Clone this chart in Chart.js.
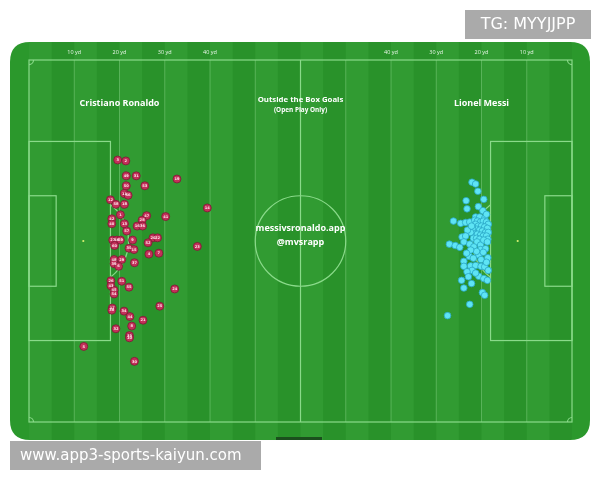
<!DOCTYPE html>
<html><head><meta charset="utf-8">
<script src="https://cdn.jsdelivr.net/npm/chart.js@4"></script>
<style>html,body{margin:0;padding:0;background:#fff}#wrap{width:600px;height:480px;position:relative}</style>
</head><body><div id="wrap"><canvas id="c" width="600" height="480"></canvas></div>
<script>
// Pitch coordinates in yards (120 x 80), y measured from the top touchline
const ronaldoX=[19.6,21.4,21.5,23.7,32.7,21.5,25.6,21.1,21.9,18.0,19.2,21.1,39.4,20.2,26.0,30.2,25.0,18.3,18.3,21.1,23.9,25.1,21.6,27.4,28.4,18.5,19.4,20.2,18.9,22.9,26.3,22.1,23.2,37.2,26.5,28.7,18.8,18.8,20.5,19.8,23.3,18.1,20.5,18.1,22.1,18.8,18.8,32.2,18.4,18.3,28.9,21.0,22.3,25.2,22.7,19.2,22.2,22.2,12.1,23.3];
const ronaldoY=[22.1,22.3,25.6,25.6,26.3,27.8,27.8,29.5,29.9,30.9,31.9,31.9,32.7,34.2,34.4,34.6,35.4,35.1,36.2,36.2,36.7,36.7,37.8,39.3,39.3,39.8,39.8,39.8,41.0,39.8,40.4,41.6,41.9,41.2,42.9,42.7,44.1,45.0,44.1,45.6,44.8,48.8,48.9,49.9,50.2,50.9,51.7,50.6,54.8,55.3,54.4,55.5,56.7,57.5,58.8,59.4,60.9,61.4,63.3,66.6];
const ronaldoLabels=['3','2','49','31','19','50','53','11','56','12','58','18','14','1','47','41','28','42','40','13','16','36','57','20','22','27','46','59','60','9','52','35','15','23','4','7','48','39','29','6','37','26','51','43','55','45','54','24','17','38','25','34','44','21','8','32','33','10','5','30'];
const messiX=[97.9,98.7,99.2,96.6,100.5,96.8,99.3,100.3,93.8,95.4,96.5,97.4,98.7,99.6,100.7,101.1,98.5,99.1,99.8,100.4,101.1,101.5,98.7,99.3,100.0,100.7,101.3,98.9,99.6,100.2,100.9,101.5,98.5,99.1,99.8,100.4,101.1,98.0,97.6,98.2,98.9,99.6,101.4,96.9,97.8,95.7,96.5,92.9,94.2,95.2,96.1,97.4,99.0,99.8,100.5,101.3,98.3,99.8,100.9,97.3,99.4,99.9,101.4,96.1,96.1,97.6,98.7,97.9,96.8,99.9,100.7,99.4,100.5,101.3,95.6,97.1,97.8,96.1,100.2,100.7,97.4,92.5,98.9,100.4,98.2,101.1,101.5,98.7,97.6,96.7];
const messiY=[27.0,27.4,29.0,31.1,30.8,32.9,32.4,33.3,35.6,36.1,35.9,35.8,34.7,34.7,35.0,34.1,35.4,35.6,35.8,35.6,35.8,36.3,36.3,36.7,36.7,36.9,37.2,37.4,37.6,37.8,38.1,38.1,38.3,38.5,38.7,38.9,38.9,37.2,38.1,39.4,39.4,39.6,39.6,37.6,36.7,39.1,38.9,40.7,41.0,41.4,40.2,40.7,40.2,40.9,39.8,40.2,41.3,41.9,41.7,43.4,43.1,44.1,43.7,44.5,45.6,45.5,45.4,46.5,46.8,45.6,45.7,47.8,48.3,48.7,48.7,47.9,49.4,50.4,51.4,52.0,54.0,56.5,42.3,42.5,43.8,44.7,46.5,47.1,42.0,42.7];
const ydTicks=[10,20,30,40,80,90,100,110];
const ydLabels=['10 yd','20 yd','30 yd','40 yd','40 yd','30 yd','20 yd','10 yd'];

const ronaldoData=ronaldoX.map((x,i)=>({x:x,y:ronaldoY[i]}));
const messiData=messiX.map((x,i)=>({x:x,y:messiY[i]}));

function rr(ctx,x,y,w,h,r){ctx.beginPath();ctx.moveTo(x+r,y);ctx.lineTo(x+w-r,y);ctx.quadraticCurveTo(x+w,y,x+w,y+r);ctx.lineTo(x+w,y+h-r);ctx.quadraticCurveTo(x+w,y+h,x+w-r,y+h);ctx.lineTo(x+r,y+h);ctx.quadraticCurveTo(x,y+h,x,y+h-r);ctx.lineTo(x,y+r);ctx.quadraticCurveTo(x,y,x+r,y);ctx.closePath();}

const pitchPlugin={
  id:'pitch',
  beforeDatasetsDraw(chart){
    const ctx=chart.ctx, sx=chart.scales.x, sy=chart.scales.y;
    const X=v=>sx.getPixelForValue(v), Y=v=>sy.getPixelForValue(v);
    const u=X(1)-X(0);
    ctx.save();
    ctx.fillStyle='#fff';ctx.fillRect(0,0,600,480);
    rr(ctx,10,42,580,398,20);ctx.fillStyle='#2b982c';ctx.fill();
    ctx.save();rr(ctx,10,42,580,398,20);ctx.clip();
    for(let i=0;i<24;i++){
      ctx.fillStyle=(i%2===0)?'rgba(255,255,255,0.03)':'rgba(0,0,0,0.035)';
      ctx.fillRect(X(i*5),42,X(5)-X(0),398);
    }
    ctx.restore();
    ctx.fillStyle='#1b4f1d';ctx.fillRect(276,437,46,3);
    ctx.strokeStyle='rgba(170,235,170,0.35)';ctx.lineWidth=1;
    for(let v=10;v<120;v+=10){ if(v===60)continue; ctx.beginPath();ctx.moveTo(X(v),Y(0));ctx.lineTo(X(v),Y(80));ctx.stroke();}
    ctx.strokeStyle='#8ada8a';ctx.lineWidth=1.2;
    ctx.strokeRect(X(0),Y(0),X(120)-X(0),Y(80)-Y(0));
    ctx.beginPath();ctx.moveTo(X(60),Y(0));ctx.lineTo(X(60),Y(80));ctx.stroke();
    ctx.beginPath();ctx.arc(X(60),Y(40),10*u,0,Math.PI*2);ctx.stroke();
    ctx.strokeRect(X(0),Y(18),X(18)-X(0),Y(62)-Y(18));
    ctx.strokeRect(X(102),Y(18),X(120)-X(102),Y(62)-Y(18));
    ctx.strokeRect(X(0),Y(30),X(6)-X(0),Y(50)-Y(30));
    ctx.strokeRect(X(114),Y(30),X(120)-X(114),Y(50)-Y(30));
    const a=Math.acos(0.6);
    ctx.beginPath();ctx.arc(X(12),Y(40),10*u,-a,a);ctx.stroke();
    ctx.beginPath();ctx.arc(X(108),Y(40),10*u,Math.PI-a,Math.PI+a);ctx.stroke();
    ctx.fillStyle='#d8f070';
    [[12,40],[108,40],[60,40]].forEach(p=>{ctx.beginPath();ctx.arc(X(p[0]),Y(p[1]),1.1,0,Math.PI*2);ctx.fill();});
    ctx.strokeStyle='#8ada8a';
    ctx.beginPath();ctx.arc(X(0),Y(0),u,0,Math.PI/2);ctx.stroke();
    ctx.beginPath();ctx.arc(X(120),Y(0),u,Math.PI/2,Math.PI);ctx.stroke();
    ctx.beginPath();ctx.arc(X(0),Y(80),u,-Math.PI/2,0);ctx.stroke();
    ctx.beginPath();ctx.arc(X(120),Y(80),u,Math.PI,Math.PI*1.5);ctx.stroke();
    ctx.fillStyle='#eaf7ea';ctx.font='5.5px "Open Sans", sans-serif';ctx.textAlign='center';ctx.textBaseline='middle';
    ydTicks.forEach((v,i)=>ctx.fillText(ydLabels[i],X(v),52));
    ctx.fillStyle='#ffffff';
    ctx.font='bold 9px "Open Sans", sans-serif';
    ctx.fillText('Cristiano Ronaldo',X(20),Y(9.5));
    ctx.fillText('Lionel Messi',X(100),Y(9.5));
    ctx.font='bold 7.8px "Open Sans", sans-serif';
    ctx.fillText('Outside the Box Goals',X(60),Y(8.8));
    ctx.font='bold 6.4px "Open Sans", sans-serif';
    ctx.fillText('(Open Play Only)',X(60),Y(11));
    ctx.font='bold 9px "Open Sans", sans-serif';
    ctx.fillText('messivsronaldo.app',X(60),Y(37.3));
    ctx.fillText('@mvsrapp',X(60),Y(40.4));
    ctx.restore();
  },
  afterDatasetsDraw(chart){
    const ctx=chart.ctx;
    const meta=chart.getDatasetMeta(0);
    ctx.save();
    ctx.fillStyle='#ffe3ea';ctx.font='bold 3.6px "DejaVu Sans", sans-serif';ctx.textAlign='center';ctx.textBaseline='middle';
    meta.data.forEach((el,i)=>ctx.fillText(ronaldoLabels[i],el.x,el.y+0.2));
    ctx.fillStyle='#aaaaaa';ctx.fillRect(465,10,126,29);
    ctx.fillRect(10,441,251,29);
    ctx.fillStyle='#ffffff';ctx.textBaseline='middle';
    ctx.font='16px "DejaVu Sans", sans-serif';ctx.textAlign='center';
    ctx.fillText('TG: MYYJJPP',528,25);
    ctx.font='15px "DejaVu Sans", sans-serif';ctx.textAlign='left';
    ctx.fillText('www.app3-sports-kaiyun.com',20,456);
    ctx.restore();
  }
};

new Chart(document.getElementById('c'),{
  type:'scatter',
  data:{datasets:[
    {label:'Cristiano Ronaldo',data:ronaldoData,backgroundColor:'#c4305a',borderColor:'#7a1a34',borderWidth:0.8,pointRadius:4,clip:false},
    {label:'Lionel Messi',data:messiData,backgroundColor:'#5ee4f4',borderColor:'#2aa6c6',borderWidth:0.8,pointRadius:3.3,clip:false}
  ]},
  options:{
    responsive:false,animation:false,devicePixelRatio:1,
    layout:{padding:{left:29,right:28,top:60,bottom:58}},
    scales:{
      x:{type:'linear',min:0,max:120,display:false},
      y:{type:'linear',min:0,max:80,reverse:true,display:false}
    },
    plugins:{legend:{display:false},tooltip:{enabled:false}}
  },
  plugins:[pitchPlugin]
});
</script></body></html>
